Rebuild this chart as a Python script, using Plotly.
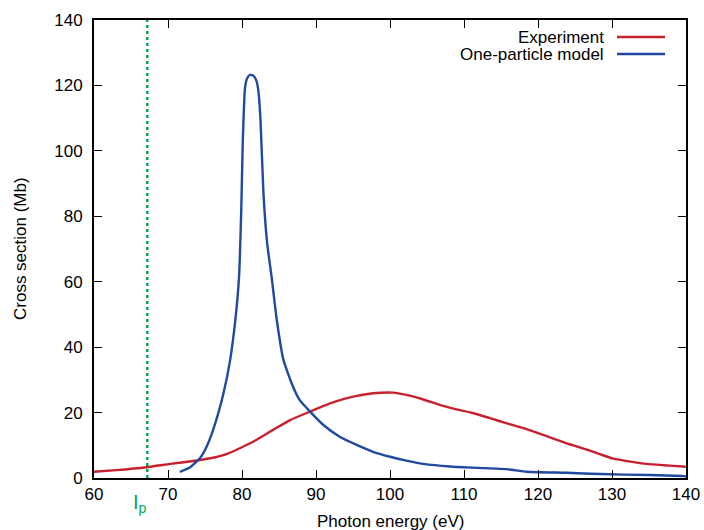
import plotly.graph_objects as go

exp_x = [60, 63, 67.1, 70.3, 73.4, 76.1, 78.0, 79.7, 81.5, 84.2, 86.5, 89.2, 91.9, 93.8, 95.5, 97.7, 100.4, 102.2, 104.5, 106.8, 109.0, 111.3, 113.5, 115.8, 117.8, 119.8, 121.8, 123.9, 125.7, 127.5, 129.0, 130.2, 132.5, 134.7, 137.0, 139.6, 140]
exp_y = [1.9, 2.4, 3.3, 4.3, 5.2, 6.2, 7.4, 9.1, 11.1, 14.7, 17.7, 20.3, 22.8, 24.2, 25.1, 25.9, 26.1, 25.4, 24.0, 22.3, 21.0, 19.8, 18.3, 16.7, 15.4, 13.9, 12.3, 10.6, 9.3, 8.0, 6.8, 5.9, 5.0, 4.3, 3.9, 3.5, 3.4]

model_x = [71.6, 73.0, 74.3, 75.2, 76.1, 77.5, 78.4, 79.1, 79.6, 79.9, 80.1, 80.4, 80.7, 81.1, 81.5, 81.9, 82.2, 82.5, 82.9, 83.4, 84.0, 84.7, 85.6, 86.9, 87.8, 89.2, 91.0, 93.2, 95.5, 97.7, 100.0, 102.2, 104.5, 108.1, 112.0, 115.8, 118.5, 123.9, 128.4, 135.1, 139.6, 140]
model_y = [1.9, 3.3, 6.0, 9.5, 14.7, 25.9, 36.1, 48.3, 61.5, 81.9, 102.3, 119.1, 122.2, 123.2, 123.0, 121.7, 118.6, 109.4, 87.0, 71.7, 61.5, 48.3, 36.1, 27.9, 23.8, 20.3, 16.2, 12.6, 10.1, 8.0, 6.5, 5.3, 4.3, 3.5, 3.1, 2.7, 1.9, 1.6, 1.2, 0.9, 0.6, 0.5]

ip_x = 67.2
x_ticks = [60, 70, 80, 90, 100, 110, 120, 130, 140]
y_ticks = [0, 20, 40, 60, 80, 100, 120, 140]

RED = "#c8202f"
BLUE = "#1f4aa0"
GREEN = "#00a651"
FONT = "Liberation Sans, Arial, sans-serif"
FS = 17

fig = go.Figure()
fig.add_trace(go.Scatter(x=exp_x, y=exp_y, mode="lines", line=dict(color=RED, width=2.4, shape="spline", smoothing=0.5), name="Experiment", showlegend=False))
fig.add_trace(go.Scatter(x=model_x, y=model_y, mode="lines", line=dict(color=BLUE, width=2.4, shape="spline", smoothing=0.5), name="One-particle model", showlegend=False))

fig.add_shape(type="line", x0=ip_x, x1=ip_x, y0=0, y1=1, xref="x", yref="paper", line=dict(color=GREEN, width=2.4, dash="dot"))
fig.add_annotation(x=ip_x, y=-0.024, xref="x", yref="paper", yanchor="top", xshift=-7, showarrow=False,
                   text="I<sub>p</sub>", font=dict(family=FONT, size=20, color=GREEN))

# legend drawn manually (gnuplot style: text right, sample line right of it)
legend_items = [("Experiment", RED), ("One-particle model", BLUE)]
W, H = 592, 458
for i, (label, col) in enumerate(legend_items):
    ypx = 37 + i * 17
    yp = 1 - (ypx - 20) / H
    fig.add_annotation(x=(606 - 94) / W, y=yp, xref="paper", yref="paper", xanchor="right", yanchor="middle",
                       showarrow=False, text=label, font=dict(family=FONT, size=FS, color="black"))
    fig.add_shape(type="line", x0=(617 - 94) / W, x1=(665 - 94) / W, y0=yp, y1=yp, xref="paper", yref="paper",
                  line=dict(color=col, width=2.4))

axis_common = dict(showgrid=False, zeroline=False, showline=True, linecolor="black", linewidth=2,
                   mirror="allticks", ticks="inside", ticklen=8, tickwidth=1.3, tickcolor="black",
                   automargin=False, tickfont=dict(family=FONT, size=FS, color="black"))
fig.update_xaxes(range=[60, 140], tickvals=x_ticks, ticktext=[str(v) for v in x_ticks],
                 **axis_common)
fig.update_yaxes(range=[0, 140], tickvals=y_ticks, ticktext=[str(v) for v in y_ticks],
                 ticklabelstandoff=6, **axis_common)
fig.add_annotation(x=0.5, y=-(521 - 478) / H, xref="paper", yref="paper", yanchor="middle", showarrow=False,
                   text="Photon energy (eV)", font=dict(family=FONT, size=FS, color="black"))
fig.add_annotation(x=-(94 - 20) / W, y=0.5, xref="paper", yref="paper", xanchor="center", textangle=-90,
                   showarrow=False, text="Cross section (Mb)", font=dict(family=FONT, size=FS, color="black"))
fig.update_layout(width=704, height=530, margin=dict(l=94, r=18, t=20, b=52),
                  plot_bgcolor="white", paper_bgcolor="white", showlegend=False)
fig.write_html("out.html", config={"displayModeBar": False})

with open("out.html", "r", encoding="utf-8") as f:
    html = f.read()
html = html.replace("<body>", '<body style="margin:0;padding:0;overflow:hidden">', 1)
with open("out.html", "w", encoding="utf-8") as f:
    f.write(html)
